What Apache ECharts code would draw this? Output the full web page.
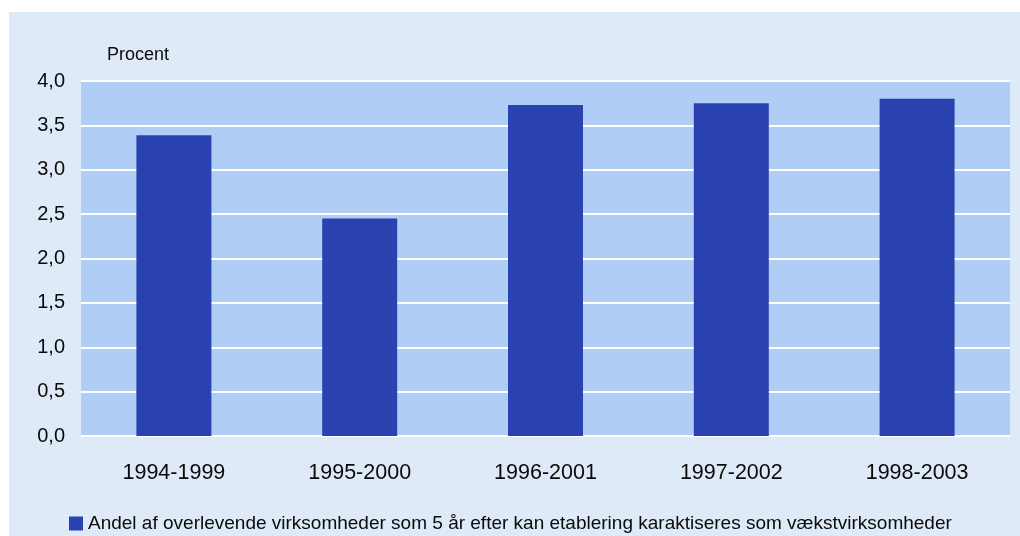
<!DOCTYPE html>
<html>
<head>
<meta charset="utf-8">
<script src="https://cdn.jsdelivr.net/npm/echarts@6/dist/echarts.min.js"></script>
<style>
html,body{margin:0;padding:0;background:#ffffff;width:1020px;height:536px;overflow:hidden;}
#chart{position:absolute;left:9px;top:12px;width:1011px;height:524px;background:#dfeaf9;}
</style>
</head>
<body>
<div id="chart"></div>
<script>
const categories = ['1994-1999', '1995-2000', '1996-2001', '1997-2002', '1998-2003'];
const values = [3.39, 2.45, 3.73, 3.75, 3.80];
const seriesName = 'Andel af overlevende virksomheder som 5 år efter kan etablering karaktiseres som vækstvirksomheder';
const yUnit = 'Procent';

const chart = echarts.init(document.getElementById('chart'), null, {renderer: 'canvas'});
const font = '"Liberation Sans", Arial, sans-serif';
chart.setOption({
  backgroundColor: '#dfeaf9',
  animation: false,
  textStyle: {fontFamily: font, color: '#0a0a0a'},
  title: {
    text: yUnit, left: 93, top: 29,
    textStyle: {fontFamily: font, fontSize: 18, fontWeight: 'normal', color: '#0a0a0a'}
  },
  legend: {
    data: [seriesName], left: 55, top: 497,
    itemWidth: 14, itemHeight: 14, itemGap: 5,
    icon: 'rect',
    textStyle: {fontFamily: font, fontSize: 19, color: '#0a0a0a'}
  },
  grid: {
    left: 72, right: 10, top: 69, bottom: 100,
    show: true, backgroundColor: '#afcdf5', borderWidth: 0
  },
  xAxis: {
    type: 'category', data: categories,
    axisLine: {show: false}, axisTick: {show: false},
    axisLabel: {fontFamily: font, fontSize: 21.5, color: '#0a0a0a', margin: 26}
  },
  yAxis: {
    type: 'value', min: 0, max: 4, interval: 0.5,
    axisLine: {show: false}, axisTick: {show: false},
    splitLine: {lineStyle: {color: '#ffffff', width: 2}},
    axisLabel: {
      fontFamily: font, fontSize: 20, color: '#0a0a0a', margin: 16,
      formatter: v => v.toFixed(1).replace('.', ',')
    }
  },
  series: [{
    name: seriesName, type: 'bar', data: values,
    barWidth: 75, itemStyle: {color: '#2942b0'}
  }]
});
</script>
</body>
</html>
